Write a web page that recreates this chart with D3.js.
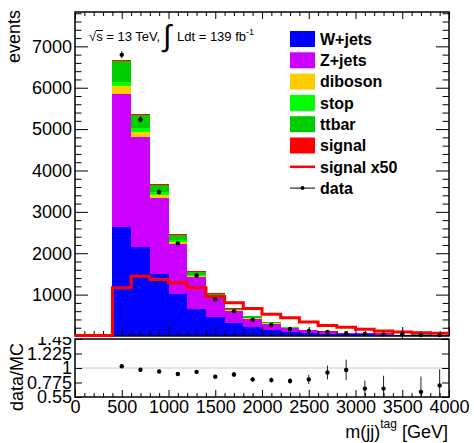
<!DOCTYPE html>
<html><head><meta charset="utf-8">
<script src="https://cdn.jsdelivr.net/npm/d3@7"></script>
<style>
body{margin:0;background:#fff;}
text{font-family:"Liberation Sans",Arial,Helvetica,sans-serif;fill:#000;}
</style></head>
<body><svg id="c" width="474" height="443"></svg>
<script>
// ---- data ----
const binLow = [400,600,800,1000,1200,1400,1600,1800,2000,2200,2400,2600,2800,3000,3200,3400,3600,3800];
const binWidth = 200;
const wjets   = [2625,2157,1498,1014,652,451,306,218,145,105,80,58,44,40,33,18,22,17];
const zjets   = [3213,2658,1835,1208,765,467,306,197,150,95,57,40,22,24,20,10,12,10];
const diboson = [201,120,81,56,32,25,15,12,8,4,3,2,1,2,2,1,1,1];
const stop    = [104,81,56,41,30,22,12,10,7,3,2,1,1,1,1,0.5,1,1];
const ttbar   = [492,314,185,128,79,58,23,37,18,4,5,3,2,3,3,1,2,1];
const signal  = [23,29,27,25,23,19,16,13,10,9,7,5,4,3,2,2,2,1];
const signalX50 = [1152,1433,1353,1272,1152,940,790,655,515,427,325,241,197,150,110,85,68,52];
const dataVal = [6795,5234,3478,2239,1465,886,596,390,266,169,121,97,68,48,40,45,24,22];
const dataErr = [82,72,59,47,38,30,24,20,16,13,12,11,11,9,12,100,9,8];
const ratio    = [1.027,0.973,0.946,0.908,0.94,0.866,0.90,0.823,0.812,0.80,0.823,0.93,0.97,0.68,0.68,null,0.63,0.73];
const ratioErr = [0.012,0.014,0.017,0.021,0.026,0.03,0.04,0.037,0.04,0.045,0.07,0.107,0.16,0.125,0.2,null,0.236,0.25];

const seriesNames  = ["W+jets","Z+jets","diboson","stop","ttbar","signal"];
const seriesKeys   = ["wjets","zjets","diboson","stop","ttbar","signal"];
const seriesColors = ["#0000ff","#cc00ff","#ffcc00","#00ff00","#00cc00","#ff0000"];

const yMainTicks = [1000,2000,3000,4000,5000,6000,7000];
const xTicks = [0,500,1000,1500,2000,2500,3000,3500,4000];
const ratioTicks = [0.55,0.775,1,1.225,1.45];
const ratioTickLabels = ["0.55","0.775","1","1.225","1.45"];

// ---- layout ----
const L=75, R=449, T=12, B=336, RT=339, RB=397;
const svg = d3.select("#c");
const x  = d3.scaleLinear([0,4000],[L,R]);
const y  = d3.scaleLinear([0,7830],[B,T]);
const yr = d3.scaleLinear([0.55,1.45],[RB,RT]);

const table = binLow.map((b,i)=>({x0:b, wjets:wjets[i], zjets:zjets[i], diboson:diboson[i], stop:stop[i], ttbar:ttbar[i], signal:signal[i]}));
const stacked = d3.stack().keys(seriesKeys)(table);

const gBars = svg.append("g").attr("shape-rendering","crispEdges");
stacked.forEach((s,k)=>{
  gBars.selectAll(null).data(s).enter().append("rect")
    .attr("x", d=>x(d.data.x0))
    .attr("width", d=>x(d.data.x0+binWidth)-x(d.data.x0))
    .attr("y", d=>y(d[1]))
    .attr("height", d=>Math.max(0,y(d[0])-y(d[1])))
    .attr("fill", seriesColors[k]);
});

// ---- main axes ----
function minorVals(lo,hi,step,majors){ return d3.range(lo,hi+1e-9,step).filter(v=>!majors.some(m=>Math.abs(m-v)<1e-6)); }
const yMinor = minorVals(0,7800,200,yMainTicks.concat([0]));
const xMinor = minorVals(0,4000,100,xTicks);

svg.append("g").attr("transform",`translate(${L},0)`)
  .call(d3.axisLeft(y).tickValues(yMainTicks).tickSize(-13).tickPadding(3).tickFormat(d3.format("d")));
svg.append("g").attr("transform",`translate(${L},0)`)
  .call(d3.axisLeft(y).tickValues(yMinor).tickSize(-6.5).tickFormat(""));
svg.append("g").attr("transform",`translate(${R},0)`)
  .call(d3.axisRight(y).tickValues(yMainTicks).tickSize(-13).tickFormat(""));
svg.append("g").attr("transform",`translate(${R},0)`)
  .call(d3.axisRight(y).tickValues(yMinor).tickSize(-6.5).tickFormat(""));
svg.append("g").attr("transform",`translate(0,${B})`)
  .call(d3.axisBottom(x).tickValues(xTicks).tickSize(-9).tickFormat(""));
svg.append("g").attr("transform",`translate(0,${B})`)
  .call(d3.axisBottom(x).tickValues(xMinor).tickSize(-5).tickFormat(""));
svg.append("g").attr("transform",`translate(0,${T})`)
  .call(d3.axisTop(x).tickValues(xTicks).tickSize(-7).tickFormat(""));
svg.append("g").attr("transform",`translate(0,${T})`)
  .call(d3.axisTop(x).tickValues(xMinor).tickSize(-4).tickFormat(""));

// ---- ratio panel ----
svg.append("defs").append("clipPath").attr("id","rclip")
  .append("rect").attr("x",0).attr("y",337).attr("width",474).attr("height",106);
svg.append("defs").append("clipPath").attr("id","rplot")
  .append("rect").attr("x",L).attr("y",RT).attr("width",R-L).attr("height",RB-RT);

svg.append("line").attr("x1",L).attr("x2",R).attr("y1",yr(1)).attr("y2",yr(1))
  .attr("stroke","#c8c8c8").attr("stroke-width",1);

const gR = svg.append("g").attr("clip-path","url(#rplot)");
binLow.forEach((b,i)=>{
  if(ratio[i]==null) return;
  const cx = x(b+binWidth/2);
  gR.append("line").attr("x1",cx).attr("x2",cx)
    .attr("y1",yr(ratio[i]-ratioErr[i])).attr("y2",yr(ratio[i]+ratioErr[i]))
    .attr("stroke","#222").attr("stroke-width",1);
  gR.append("circle").attr("cx",cx).attr("cy",yr(ratio[i])).attr("r",2.2).attr("fill","#000");
});

const gRA = svg.append("g").attr("clip-path","url(#rclip)");
gRA.append("g").attr("transform",`translate(${L},0)`)
  .call(d3.axisLeft(yr).tickValues(ratioTicks).tickSize(-7).tickPadding(3).tickFormat((d,i)=>ratioTickLabels[i]));
gRA.append("g").attr("transform",`translate(${R},0)`)
  .call(d3.axisRight(yr).tickValues(ratioTicks).tickSize(-7).tickFormat(""));
svg.append("g").attr("transform",`translate(0,${RB})`)
  .call(d3.axisBottom(x).tickValues(xTicks).tickSize(-7).tickPadding(3).tickFormat(d3.format("d")));
svg.append("g").attr("transform",`translate(0,${RB})`)
  .call(d3.axisBottom(x).tickValues(xMinor).tickSize(-4).tickFormat(""));

// style axes
svg.selectAll(".domain").remove();
svg.selectAll(".tick line").attr("stroke","#000").attr("stroke-width",1);
svg.selectAll(".tick text").attr("font-size",18).attr("font-family","Liberation Sans, Arial, sans-serif").attr("fill","#000");

// frames
svg.append("rect").attr("x",L).attr("y",T).attr("width",R-L).attr("height",B-T)
  .attr("fill","none").attr("stroke","#000").attr("stroke-width",1.5);
svg.append("rect").attr("x",L).attr("y",RT).attr("width",R-L).attr("height",RB-RT)
  .attr("fill","none").attr("stroke","#000").attr("stroke-width",1.5);

// signal x50 step line (drawn over frame like the reference)
const stepPts = [[0,0]].concat(binLow.map((b,i)=>[b,signalX50[i]])).concat([[binLow[binLow.length-1]+binWidth, signalX50[signalX50.length-1]]]);
svg.append("path")
  .attr("d", d3.line().x(d=>x(d[0])).y(d=>y(d[1])-0.5).curve(d3.curveStepAfter)(stepPts))
  .attr("fill","none").attr("stroke","#ff0000").attr("stroke-width",3);

// data points main
const gData = svg.append("g");
binLow.forEach((b,i)=>{
  const cx = x(b+binWidth/2);
  gData.append("line").attr("x1",cx).attr("x2",cx)
    .attr("y1",y(dataVal[i]-dataErr[i])).attr("y2",y(dataVal[i]+dataErr[i]))
    .attr("stroke","#000").attr("stroke-width",1);
  gData.append("circle").attr("cx",cx).attr("cy",y(dataVal[i])).attr("r",2.2).attr("fill","#000");
});

// axis titles
svg.append("text").attr("transform","translate(20,10) rotate(-90)").attr("text-anchor","end")
  .attr("font-size",18).text("events");
svg.append("text").attr("transform","translate(23,343) rotate(-90)").attr("text-anchor","end")
  .attr("font-size",18).text("data/MC");
const xt = svg.append("text").attr("x",448).attr("y",438).attr("text-anchor","end").attr("font-size",18);
xt.append("tspan").text("m(jj)");
xt.append("tspan").attr("font-size",12).attr("dy",-10).text("tag");
xt.append("tspan").attr("dy",10).text(" [GeV]");

// annotation
const ann = svg.append("g");
ann.append("text").attr("x",89).attr("y",41).attr("font-size",13).text("√s = 13 TeV,");
ann.append("line").attr("x1",96).attr("x2",103).attr("y1",30.5).attr("y2",30.5).attr("stroke","#000").attr("stroke-width",1);
ann.append("text").attr("x",163).attr("y",46).attr("font-size",30).attr("font-family","DejaVu Sans").text("∫");
const ann2 = ann.append("text").attr("x",177).attr("y",41).attr("font-size",13);
ann2.append("tspan").text("Ldt = 139 fb");
ann2.append("tspan").attr("font-size",9).attr("dy",-6).text("-1");

// legend
const legRows = seriesNames.map((n,i)=>({name:n, color:seriesColors[i], type:"box"}))
  .concat([{name:"signal x50", color:"#ff0000", type:"line"},{name:"data", color:"#000", type:"data"}]);
const lg = svg.append("g");
legRows.forEach((r,i)=>{
  const cy = 39 + i*21.3;
  if(r.type==="box"){
    lg.append("rect").attr("x",290).attr("y",cy-8).attr("width",25).attr("height",16).attr("fill",r.color);
  } else if(r.type==="line"){
    lg.append("line").attr("x1",290).attr("x2",315).attr("y1",cy).attr("y2",cy).attr("stroke",r.color).attr("stroke-width",2.5);
  } else {
    lg.append("line").attr("x1",290).attr("x2",315).attr("y1",cy).attr("y2",cy).attr("stroke","#000").attr("stroke-width",1);
    lg.append("circle").attr("cx",302.5).attr("cy",cy).attr("r",2).attr("fill","#000");
  }
  lg.append("text").attr("x",320).attr("y",cy).attr("dy","0.36em").attr("font-size",16).attr("font-weight","bold").text(r.name);
});
</script></body></html>
